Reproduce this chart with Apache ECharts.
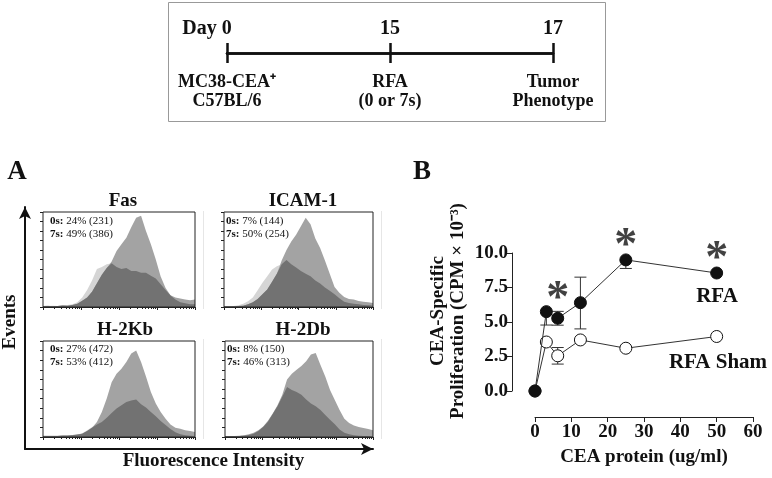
<!DOCTYPE html>
<html><head><meta charset="utf-8">
<script src="https://cdn.jsdelivr.net/npm/echarts@6.0.0/dist/echarts.min.js"></script>
<style>html,body{margin:0;padding:0;background:#fff}#c{width:772px;height:478px}</style>
</head><body><div id="c"></div>
<script>
// ---------- data ----------
const timelineDays = ['Day 0', '15', '17'];
const timelineEvent = ['MC38-CEA⁺', 'RFA', 'Tumor'];
const timelineDetail = ['C57BL/6', '(0 or 7s)', 'Phenotype'];

const histPanels = ['Fas', 'ICAM-1', 'H-2Kb', 'H-2Db'];
const pct0s = ['24% (231)', '7% (144)', '27% (472)', '8% (150)'];
const pct7s = ['49% (386)', '50% (254)', '53% (412)', '46% (313)'];
const fluorBins = ['0','1','2','3','4','5','6','7','8','9','10','11','12','13','14','15','16','17','18','19','20','21','22','23','24','25','26','27','28','29','30','31'];
const fas0s  = [1,1,1.2,1,1.5,2,3,5,10,18,28,40,42,45,46,42,40,41,38,38,36,36,33,30,24,18,12,8,5,4,3,3];
const fas7s  = [1,1.2,0.8,1,1.5,1.4,2,3.5,6.5,10,16,25,34,41,48,59,66,73,84,94,96,80,66,50,32,20,12.5,10,9,8,7,8];
const icam0s = [0.7,0.7,1,1.8,3.5,6,10,17.7,25.4,32.5,39.5,43,45,49.5,45,41.7,38,35,32.5,28,24.7,20.5,17,13.4,9.2,5.6,4.2,3.5,2.8,2.1,1.8,1.8];
const icam7s = [0.7,0.7,0.7,1,1.4,2.8,5,8.5,13.4,18.4,26.5,35,49,60,69,76,85,94,87,72,62,49,35,21,15,10.6,8.5,7.8,6.4,5.6,5,4.2];
const kb0s   = [1,1,1,1,1.4,1.4,1.7,2.4,4,7,10.5,13,15.7,20,25,29.6,33,36.5,38,39,34,30.6,26,21.6,16.7,12.5,8.4,4.9,2.8,1.7,1.4,1];
const kb7s   = [1.4,1.4,1.4,1.4,1.7,1.7,2.1,2.8,3.5,6.3,9.7,15.7,26,40,57,66,71,78,87,90,78,63,47,35,26,19,13,9.7,8.7,7,6.3,5.2];
const db0s   = [1,1,1,1,1.4,2,3.5,6.3,10.5,15.8,24,32,42,52,49,47,44,39,35,32,28,23,18,13.3,7.7,4.5,2.8,1.8,1.4,1,1,1];
const db7s   = [1,1,1,1.4,1.8,2.8,4.5,7,11,16.8,24.5,33,44,60,66,70,74,79,86,87.5,75,63,49,38.5,28,19,14.7,12,10.5,9.5,8.4,7];
const hist0s = [fas0s, icam0s, kb0s, db0s];
const hist7s = [fas7s, icam7s, kb7s, db7s];

const ceaDose   = [0, 3.125, 6.25, 12.5, 25, 50];
const rfaMean   = [0, 5.75, 5.27, 6.4, 9.5, 8.55];
const rfaErrLo  = [0, 0.97, 0.5, 1.9, 0.62, 0];
const rfaErrHi  = [0, 0, 0.5, 1.85, 0, 0];
const shamMean  = [0, 3.55, 2.55, 3.7, 3.1, 3.95];
const shamErrLo = [0, 0, 0.6, 0, 0, 0];
const shamErrHi = [0, 0, 0.6, 0, 0, 0];
const sigDose   = [6.25, 25, 50];
const sigHeight = [6.6, 10.4, 9.5];
const xTicksB = {min: 0, max: 60, interval: 10};
const yTicksB = {min: 0, max: 10, interval: 2.5};

// ---------- build ----------
const F = 'Liberation Serif';
const INK = '#111';
const grid = [], xAxis = [], yAxis = [], series = [], graphic = [];

// timeline
grid.push({left: 227, top: 52, width: 326, height: 1, show: false});
const tlLine = {lineStyle: {color: INK, width: 2.5}};
const tlTick = {show: true, length: 10, lineStyle: {color: INK, width: 2.5}};
xAxis.push({gridIndex: 0, type: 'category', data: timelineDays, position: 'top', boundaryGap: false,
  axisLine: tlLine, axisTick: tlTick,
  axisLabel: {interval: 0, margin: 13, formatter: (v, i) => i === 0 ? '{d|' + v + '}' : '{n|' + v + '}',
    rich: {d: {fontFamily: F, fontWeight: 'bold', fontSize: 20, color: INK, padding: [0, 40, 0, 0]},
           n: {fontFamily: F, fontWeight: 'bold', fontSize: 20, color: INK}}}});
xAxis.push({gridIndex: 0, type: 'category', data: timelineDays, position: 'bottom', boundaryGap: false,
  axisLine: tlLine, axisTick: tlTick,
  axisLabel: {interval: 0, margin: 20, formatter: (v, i) => timelineEvent[i] + '\n' + timelineDetail[i],
    fontFamily: F, fontWeight: 'bold', fontSize: 18, lineHeight: 19, color: INK}});
yAxis.push({gridIndex: 0, show: false});
graphic.push({type: 'rect', shape: {x: 168.5, y: 2.5, width: 437, height: 119}, style: {fill: 'none', stroke: '#999', lineWidth: 1}});

// histograms
const histGrids = [
  {left: 43, top: 212, width: 152, height: 95},
  {left: 224, top: 212, width: 149, height: 95},
  {left: 43, top: 341, width: 152, height: 96},
  {left: 225, top: 341, width: 148, height: 96}];
const histTitlePos = [[123, 201], [303, 201], [125, 330], [303, 330]];
const histNotePos = [[50, 215], [226, 215], [50, 343], [227, 343]];
histPanels.forEach((name, p) => {
  const gi = grid.length;
  grid.push(Object.assign({show: true, borderColor: '#222', borderWidth: 1, z: 4}, histGrids[p]));
  const xi = xAxis.length;
  xAxis.push({gridIndex: gi, type: 'category', data: fluorBins, boundaryGap: false, position: 'top', show: false});
  xAxis.push({gridIndex: gi, type: 'log', min: 1, max: 10000, position: 'bottom', z: 4,
    axisLine: {show: true, lineStyle: {color: '#222'}},
    axisTick: {show: true, length: 3, lineStyle: {color: '#222'}},
    minorTick: {show: true, splitNumber: 9, length: 2, lineStyle: {color: '#222'}},
    axisLabel: {show: false}, splitLine: {show: false}, minorSplitLine: {show: false}});
  const yi = yAxis.length;
  yAxis.push({gridIndex: gi, type: 'value', min: 0, max: 100, interval: 10,
    axisLine: {show: false}, axisTick: {show: true, length: 3, lineStyle: {color: '#222'}},
    axisLabel: {show: false}, splitLine: {show: false}});
  const d0 = hist0s[p], d7 = hist7s[p];
  const area = (data, color, z) => ({type: 'line', xAxisIndex: xi, yAxisIndex: yi, data: data, symbol: 'none',
    lineStyle: {width: 0}, areaStyle: {color: color, opacity: 1}, silent: true, z: z});
  series.push(area(d0, '#d5d5d5', 2));
  series.push(area(d7, '#a3a3a3', 3));
  series.push(area(d0.map((v, i) => Math.min(v, d7[i])), '#727272', 3.5));
  graphic.push({type: 'text', x: histTitlePos[p][0], y: histTitlePos[p][1],
    style: {text: name, font: 'bold 19px ' + F, fill: INK, align: 'center', verticalAlign: 'middle'}});
  graphic.push({type: 'text', x: histNotePos[p][0], y: histNotePos[p][1],
    style: {text: '{b|0s:} ' + pct0s[p] + '\n{b|7s:} ' + pct7s[p], font: '11px ' + F, fill: INK,
      lineHeight: 12.5, align: 'left', verticalAlign: 'top', rich: {b: {fontWeight: 'bold', fontSize: 11, fontFamily: F, fill: INK}}}});
});
// faint panel edges of the original image
[[203, 211, 309], [203, 339, 439], [381, 211, 309], [381, 339, 439]].forEach(s => graphic.push({
  type: 'line', shape: {x1: s[0] + 0.5, y1: s[1], x2: s[0] + 0.5, y2: s[2]}, style: {stroke: '#e6e6e6', lineWidth: 1}}));

// outer arrows of panel A
const ga = grid.length;
grid.push({left: 24, top: 207, width: 349, height: 242, show: false});
xAxis.push({gridIndex: ga, type: 'value', min: 0, max: 1, position: 'bottom',
  axisLine: {show: true, onZero: false, symbol: ['none', 'arrow'], symbolSize: [9, 12], lineStyle: {color: INK, width: 2}},
  axisTick: {show: false}, axisLabel: {show: false}, splitLine: {show: false},
  name: 'Fluorescence Intensity', nameLocation: 'middle', nameGap: 3,
  nameTextStyle: {fontFamily: F, fontWeight: 'bold', fontSize: 19, color: INK, padding: [0, 0, 0, 29]}});
yAxis.push({gridIndex: ga, type: 'value', min: 0, max: 1, position: 'left',
  axisLine: {show: true, onZero: false, symbol: ['none', 'arrow'], symbolSize: [9, 12], lineStyle: {color: INK, width: 2}},
  axisTick: {show: false}, axisLabel: {show: false}, splitLine: {show: false},
  name: 'Events', nameLocation: 'middle', nameGap: 5,
  nameTextStyle: {fontFamily: F, fontWeight: 'bold', fontSize: 19, color: INK, padding: [0, 0, 0, 12]}});

// panel B
const gb = grid.length;
grid.push({left: 535, top: 253, width: 218, height: 138, show: false});
const bx = xAxis.length, by = yAxis.length;
xAxis.push(Object.assign({gridIndex: gb, type: 'value', position: 'bottom', offset: 26,
  axisLine: {show: true, onZero: false, lineStyle: {color: '#222', width: 1}},
  axisTick: {show: true, length: 5, lineStyle: {color: '#222'}},
  axisLabel: {fontFamily: F, fontWeight: 'bold', fontSize: 19, color: INK, margin: 6},
  splitLine: {show: false},
  name: 'CEA protein (ug/ml)', nameLocation: 'middle', nameGap: 31,
  nameTextStyle: {fontFamily: F, fontWeight: 'bold', fontSize: 19, color: INK}}, xTicksB));
yAxis.push(Object.assign({gridIndex: gb, type: 'value', position: 'left', offset: 23,
  axisLine: {show: true, onZero: false, lineStyle: {color: '#222', width: 1}},
  axisTick: {show: true, length: 5, lineStyle: {color: '#222'}},
  axisLabel: {fontFamily: F, fontWeight: 'bold', fontSize: 19, color: INK, margin: 4, formatter: v => v.toFixed(1)},
  splitLine: {show: false}}, yTicksB));

function errRender(params, api) {
  const x = api.value(0), y = api.value(1), lo = api.value(2), hi = api.value(3);
  if (!(lo > 0 || hi > 0)) return null;
  const a = api.coord([x, y - lo]), b = api.coord([x, y + hi]);
  const st = {stroke: '#333', lineWidth: 1, fill: null};
  const w = 6;
  const ch = [{type: 'line', shape: {x1: a[0], y1: a[1], x2: b[0], y2: b[1]}, style: st}];
  if (lo > 0) ch.push({type: 'line', shape: {x1: a[0] - w, y1: a[1], x2: a[0] + w, y2: a[1]}, style: st});
  if (hi > 0) ch.push({type: 'line', shape: {x1: b[0] - w, y1: b[1], x2: b[0] + w, y2: b[1]}, style: st});
  return {type: 'group', children: ch};
}
series.push({type: 'custom', xAxisIndex: bx, yAxisIndex: by, renderItem: errRender, silent: true, z: 3, clip: false,
  data: ceaDose.map((x, i) => [x, shamMean[i], shamErrLo[i], shamErrHi[i]])});
series.push({type: 'custom', xAxisIndex: bx, yAxisIndex: by, renderItem: errRender, silent: true, z: 3, clip: false,
  data: ceaDose.map((x, i) => [x, rfaMean[i], rfaErrLo[i], rfaErrHi[i]])});
series.push({type: 'line', name: 'RFA Sham', xAxisIndex: bx, yAxisIndex: by, clip: false,
  data: ceaDose.map((x, i) => [x, shamMean[i]]), symbol: 'circle', symbolSize: 12, z: 4,
  itemStyle: {color: '#fff', borderColor: INK, borderWidth: 1}, lineStyle: {color: '#333', width: 1}});
series.push({type: 'line', name: 'RFA', xAxisIndex: bx, yAxisIndex: by, clip: false,
  data: ceaDose.map((x, i) => [x, rfaMean[i]]), symbol: 'circle', symbolSize: 12, z: 5,
  itemStyle: {color: INK, borderColor: INK, borderWidth: 1}, lineStyle: {color: '#333', width: 1}});
series.push({type: 'scatter', xAxisIndex: bx, yAxisIndex: by, clip: false, silent: true, z: 6,
  data: sigDose.map((x, i) => [x, sigHeight[i]]), symbolSize: 1, itemStyle: {color: 'transparent'},
  label: {show: true, position: 'inside', formatter: '*', fontFamily: F, fontWeight: 'bold', fontSize: 46, color: INK}});

// texts
graphic.push({type: 'text', x: 17, y: 172, style: {text: 'A', font: 'bold 27px ' + F, fill: INK, align: 'center', verticalAlign: 'middle'}});
graphic.push({type: 'text', x: 422, y: 172, style: {text: 'B', font: 'bold 27px ' + F, fill: INK, align: 'center', verticalAlign: 'middle'}});
graphic.push({type: 'text', x: 717, y: 297, style: {text: 'RFA', font: 'bold 21px ' + F, fill: INK, align: 'center', verticalAlign: 'middle'}});
graphic.push({type: 'text', x: 718, y: 363, style: {text: 'RFA Sham', font: 'bold 21px ' + F, fill: INK, align: 'center', verticalAlign: 'middle'}});
graphic.push({type: 'text', x: 448, y: 311, rotation: Math.PI / 2,
  style: {text: 'CEA-Specific\nProliferation (CPM × 10⁻³)', font: 'bold 19px ' + F, fill: INK, lineHeight: 20, align: 'center', verticalAlign: 'middle'}});

const chart = echarts.init(document.getElementById('c'), null, {renderer: 'canvas'});
chart.setOption({animation: false, backgroundColor: '#fff', grid, xAxis, yAxis, series, graphic});
</script>
</body></html>
